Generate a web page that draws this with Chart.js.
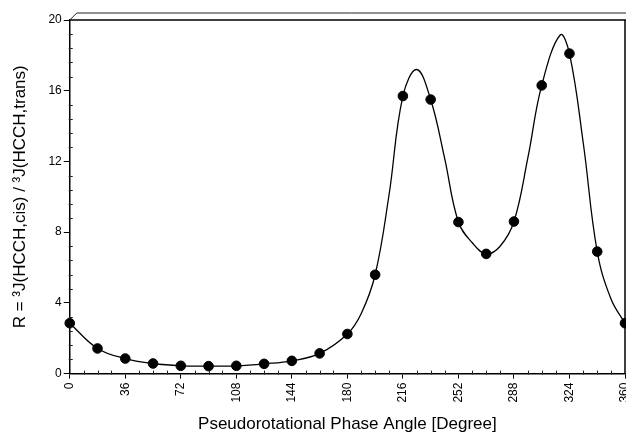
<!DOCTYPE html>
<html>
<head>
<meta charset="utf-8">
<script src="https://cdn.jsdelivr.net/npm/chart.js@4.4.0/dist/chart.umd.min.js"></script>
<style>
  html, body { margin: 0; padding: 0; background: #fff; }
  #wrap { width: 626px; height: 435px; }
</style>
</head>
<body>
<div id="wrap"><canvas id="myChart" width="626" height="435"></canvas></div>
<script>
// measured points: pseudorotational phase angle (deg) and ratio R
const phaseAngles = [0, 18, 36, 54, 72, 90, 108, 126, 144, 162, 180, 198, 216, 234, 252, 270, 288, 306, 324, 342, 360];
const ratioValues = [2.85, 1.42, 0.85, 0.57, 0.44, 0.42, 0.44, 0.55, 0.72, 1.14, 2.24, 5.59, 15.7, 15.5, 8.57, 6.77, 8.6, 16.3, 18.1, 6.9, 2.85];

// fitted curve
const curveAngles = [0, 18, 36, 54, 72, 90, 108, 126, 144, 162, 180, 189, 198, 207, 216, 225, 234, 243, 252, 261, 270, 279, 288, 297, 306, 318, 324, 333, 342, 351, 360];
const curveValues = [2.85, 1.42, 0.85, 0.57, 0.44, 0.42, 0.44, 0.55, 0.72, 1.14, 2.24, 3.4, 5.59, 10.1, 15.7, 17.2, 15.5, 12.2, 8.57, 7.4, 6.77, 7.2, 8.6, 12.2, 16.3, 19.15, 18.1, 13.0, 6.9, 4.2, 2.85];

const xTicks = [0, 36, 72, 108, 144, 180, 216, 252, 288, 324, 360];
const yTicks = [0, 4, 8, 12, 16, 20];
const xMinorStep = 9;
const yMinorStep = 0.8;

const fontFamily = '"Liberation Sans", Arial, Helvetica, sans-serif';

// frame on top/right, the offset top line and the small minor ticks
const framePlugin = {
    id: 'frame',
    afterDraw(chart) {
        const ctx = chart.ctx;
        const a = chart.chartArea;
        const xs = chart.scales.x;
        const ys = chart.scales.y;
        ctx.save();
        ctx.strokeStyle = '#000';
        ctx.lineWidth = 1.5;
        ctx.beginPath();
        ctx.moveTo(a.left, a.top);
        ctx.lineTo(chart.width, a.top);
        ctx.moveTo(a.right, a.top);
        ctx.lineTo(a.right, a.bottom);
        ctx.stroke();

        ctx.lineWidth = 1;
        ctx.strokeStyle = '#222';
        ctx.beginPath();
        ctx.moveTo(a.left, a.top);
        ctx.lineTo(a.left + 7, a.top - 7);
        ctx.lineTo(chart.width, a.top - 7);
        ctx.stroke();

        // minor ticks
        ctx.beginPath();
        for (let v = xs.min; v <= xs.max; v += xMinorStep) {
            if (v % 36 === 0) continue;
            const px = Math.round(xs.getPixelForValue(v)) + 0.5;
            ctx.moveTo(px, a.bottom - 3);
            ctx.lineTo(px, a.bottom + 1);
        }
        for (let i = 1; i * yMinorStep < ys.max; i++) {
            if (i % 5 === 0) continue;
            const py = Math.round(ys.getPixelForValue(i * yMinorStep)) + 0.5;
            ctx.moveTo(a.left - 1, py);
            ctx.lineTo(a.left + 3, py);
        }
        ctx.stroke();
        ctx.restore();
    }
};

const ctx = document.getElementById('myChart');

new Chart(ctx, {
    type: 'scatter',
    data: {
        datasets: [{
            label: 'measured',
            data: phaseAngles.map((x, i) => ({ x: x, y: ratioValues[i] })),
            backgroundColor: '#000',
            borderColor: '#000',
            pointRadius: 4.8,
            pointHoverRadius: 4.8,
            clip: false,
            order: 0
        }, {
            label: 'fit',
            type: 'line',
            data: curveAngles.map((x, i) => ({ x: x, y: curveValues[i] })),
            borderColor: '#000',
            borderWidth: 1.3,
            pointRadius: 0,
            fill: false,
            tension: 0.4,
            order: 1
        }]
    },
    options: {
        responsive: false,
        animation: false,
        layout: { autoPadding: false, padding: { left: 6, right: 1, top: 20, bottom: 0 } },
        plugins: {
            legend: { display: false },
            tooltip: { enabled: false }
        },
        scales: {
            x: {
                type: 'linear',
                min: 0,
                max: 360,
                afterBuildTicks: (s) => { s.ticks = xTicks.map(v => ({ value: v })); },
                afterFit: (s) => { s.paddingRight = 0; s.paddingLeft = 0; },
                ticks: {
                    autoSkip: false,
                    minRotation: 90,
                    maxRotation: 90,
                    padding: 4,
                    color: '#000',
                    font: { family: fontFamily, size: 12 }
                },
                grid: { drawOnChartArea: false, tickLength: 5, color: '#000', lineWidth: 1 },
                border: { color: '#000', width: 1.5 },
                title: {
                    display: true,
                    text: 'Pseudorotational Phase Angle [Degree]',
                    color: '#000',
                    font: { family: fontFamily, size: 17 },
                    padding: { top: 8, bottom: 0 }
                }
            },
            y: {
                type: 'linear',
                min: 0,
                max: 20,
                afterBuildTicks: (s) => { s.ticks = yTicks.map(v => ({ value: v })); },
                afterFit: (s) => { s.paddingTop = 0; },
                ticks: {
                    padding: 2,
                    color: '#000',
                    font: { family: fontFamily, size: 12 }
                },
                grid: { drawOnChartArea: false, tickLength: 6, color: '#000', lineWidth: 1 },
                border: { color: '#000', width: 1.5 },
                title: {
                    display: true,
                    text: 'R = ³J(HCCH,cis) / ³J(HCCH,trans)',
                    color: '#000',
                    font: { family: fontFamily, size: 17 },
                    padding: { top: 4, bottom: 16 }
                }
            }
        }
    },
    plugins: [framePlugin]
});
</script>
</body>
</html>
